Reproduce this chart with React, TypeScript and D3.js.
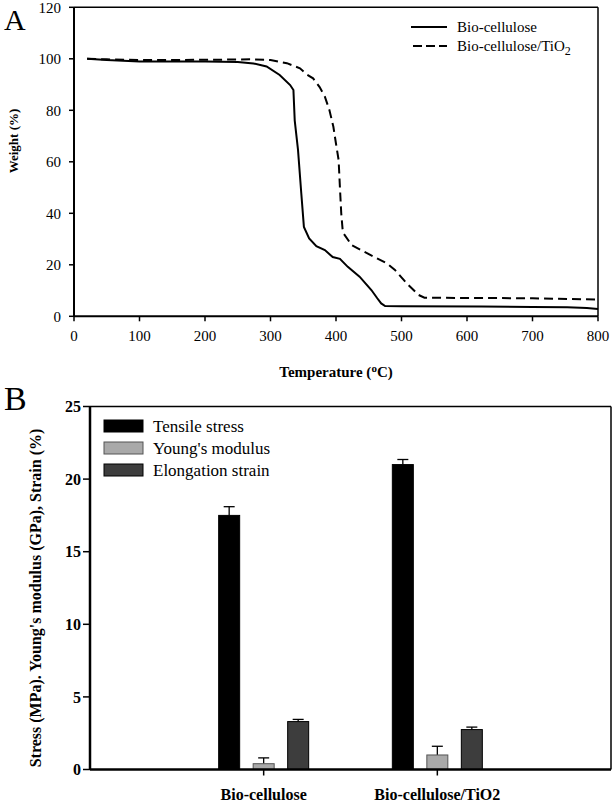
import * as d3 from 'd3'

// Panel A: TGA curves (temperature °C, weight %)
const tempBio = [20, 50, 100, 150, 200, 250, 274, 294, 314, 330, 335, 337, 342, 347, 351, 359, 370, 383, 395, 406, 418, 436, 454, 463, 469, 475, 500, 622, 700, 753, 783, 800]
const weightBio = [100, 99.5, 99, 99, 99, 98.8, 98.2, 97, 93.7, 89.8, 87.9, 76, 64.6, 47.8, 34.7, 30.2, 27.2, 25.7, 23, 22.3, 19.2, 15.4, 10.2, 7, 5, 4, 3.9, 3.8, 3.6, 3.5, 3.2, 2.8]

const tempTi = [20, 50, 100, 200, 270, 300, 325, 345, 355, 365, 375, 383, 390, 396, 400, 404, 406, 408, 410, 412, 424, 448, 478, 490, 508, 526, 535, 630, 700, 800]
const weightTi = [100, 99.8, 99.5, 99.6, 99.8, 99.5, 98.3, 96.3, 94, 92.4, 89, 85.3, 80, 73.6, 67, 60.7, 50, 40, 34, 32, 27.6, 24.4, 20.5, 18, 12.8, 8.3, 7.2, 7.1, 7, 6.5]

const xTicksA = [0, 100, 200, 300, 400, 500, 600, 700, 800]
const yTicksA = [0, 20, 40, 60, 80, 100, 120]

// Panel B: mechanical properties
const samples = ['Bio-cellulose', 'Bio-cellulose/TiO2']
const properties = ['Tensile stress', "Young's modulus", 'Elongation strain']
const meanValues = [
  [17.5, 0.4, 3.3],
  [21.0, 1.0, 2.75],
]
const errValues = [
  [0.6, 0.4, 0.15],
  [0.35, 0.6, 0.17],
]
const propColors = ['#000000', '#a9a9a9', '#3d3d3d']
const yTicksB = [0, 5, 10, 15, 20, 25]

const serif = '"Liberation Serif", "Times New Roman", serif'

export default function App() {
  const xA = d3.scaleLinear().domain([0, 800]).range([74, 598])
  const yA = d3.scaleLinear().domain([0, 120]).range([316.3, 7.3])

  const lineA = d3.line<[number, number]>()
    .x(d => xA(d[0]))
    .y(d => yA(d[1]))

  const bioPts = tempBio.map((t, i) => [t, weightBio[i]] as [number, number])
  const tiPts = tempTi.map((t, i) => [t, weightTi[i]] as [number, number])

  const xB = d3.scaleLinear().domain([0, 3]).range([90, 611])
  const yB = d3.scaleLinear().domain([0, 25]).range([769.5, 406.5])
  const barW = 21
  const barStep = 34.5

  return (
    <svg width={614} height={802} style={{ position: 'absolute', left: 0, top: 0, background: '#fff' }} fontFamily={serif}>
      <rect width={614} height={802} fill="#fff" />

      {/* ---------- Panel A ---------- */}
      <text x={4} y={30} fontSize={30}>A</text>

      {/* frame */}
      <line x1={xA(0)} x2={xA(800)} y1={yA(120)} y2={yA(120)} stroke="#000" strokeWidth={1.5} />
      <line x1={xA(800)} x2={xA(800)} y1={yA(120)} y2={yA(0)} stroke="#000" strokeWidth={1.5} />
      <line x1={xA(0)} x2={xA(0)} y1={yA(120)} y2={yA(0)} stroke="#000" strokeWidth={2} />
      <line x1={xA(0)} x2={xA(800)} y1={yA(0)} y2={yA(0)} stroke="#000" strokeWidth={2} />

      {yTicksA.map(t => (
        <g key={'ya' + t}>
          <line x1={xA(0) - 5} x2={xA(0)} y1={yA(t)} y2={yA(t)} stroke="#000" strokeWidth={1.5} />
          <text x={61} y={yA(t)} dy="0.35em" textAnchor="end" fontSize={15}>{t}</text>
        </g>
      ))}
      {xTicksA.map(t => (
        <g key={'xa' + t}>
          <line x1={xA(t)} x2={xA(t)} y1={yA(0)} y2={yA(0) + 5} stroke="#000" strokeWidth={1.5} />
          <text x={xA(t)} y={341} textAnchor="middle" fontSize={15}>{t}</text>
        </g>
      ))}

      <text x={336} y={377} textAnchor="middle" fontSize={15} fontWeight="bold">
        Temperature (<tspan dy={-5} fontSize={11}>o</tspan><tspan dy={5}>C)</tspan>
      </text>
      <text transform="translate(18,141) rotate(-90)" textAnchor="middle" fontSize={13} fontWeight="bold">Weight (%)</text>

      <path d={lineA(bioPts) ?? ''} fill="none" stroke="#000" strokeWidth={2} />
      <path d={lineA(tiPts) ?? ''} fill="none" stroke="#000" strokeWidth={2} strokeDasharray="9 5" />

      {/* legend A */}
      <line x1={411} x2={447} y1={27} y2={27} stroke="#000" strokeWidth={2} />
      <text x={457} y={32} fontSize={15}>Bio-cellulose</text>
      <line x1={413} x2={447} y1={46} y2={46} stroke="#000" strokeWidth={2} strokeDasharray="9 4" />
      <text x={457} y={51} fontSize={15}>
        Bio-cellulose/TiO<tspan dy={4} fontSize={12}>2</tspan>
      </text>

      {/* ---------- Panel B ---------- */}
      <text x={4} y={410} fontSize={34}>B</text>

      <line x1={xB(0)} x2={xB(3)} y1={yB(25)} y2={yB(25)} stroke="#000" strokeWidth={1.5} />
      <line x1={xB(3)} x2={xB(3)} y1={yB(25)} y2={yB(0)} stroke="#000" strokeWidth={1.5} />

      {samples.map((s, gi) => {
        const cx = xB(gi + 1)
        return (
          <g key={s}>
            {properties.map((p, pi) => {
              const bx = cx + (pi - 1) * barStep
              const v = meanValues[gi][pi]
              const e = errValues[gi][pi]
              return (
                <g key={p}>
                  <line x1={bx} x2={bx} y1={yB(v)} y2={yB(v + e)} stroke="#000" strokeWidth={1.3} />
                  <line x1={bx - 5.5} x2={bx + 5.5} y1={yB(v + e)} y2={yB(v + e)} stroke="#000" strokeWidth={1.3} />
                  <rect x={bx - barW / 2} y={yB(v)} width={barW} height={yB(0) - yB(v)}
                    fill={propColors[pi]} stroke={pi === 1 ? '#555' : '#000'} strokeWidth={1} />
                </g>
              )
            })}
            <line x1={cx} x2={cx} y1={yB(0)} y2={yB(0) + 6} stroke="#000" strokeWidth={1.5} />
            <text x={cx} y={800} textAnchor="middle" fontSize={16} fontWeight="bold">{s}</text>
          </g>
        )
      })}

      <line x1={xB(0)} x2={xB(0)} y1={yB(25)} y2={yB(0)} stroke="#000" strokeWidth={2.5} />
      <line x1={xB(0)} x2={xB(3)} y1={yB(0)} y2={yB(0)} stroke="#000" strokeWidth={2.5} />

      {yTicksB.map(t => (
        <g key={'yb' + t}>
          <line x1={xB(0) - 7} x2={xB(0)} y1={yB(t)} y2={yB(t)} stroke="#000" strokeWidth={1.5} />
          <text x={81} y={yB(t)} dy="0.35em" textAnchor="end" fontSize={16} fontWeight="bold">{t}</text>
        </g>
      ))}

      <text transform="translate(41,598) rotate(-90)" textAnchor="middle" fontSize={16} fontWeight="bold">
        Stress (MPa). Young's modulus (GPa), Strain (%)
      </text>

      {/* legend B */}
      {properties.map((p, pi) => (
        <g key={'lg' + p}>
          <rect x={104} y={420 + pi * 22} width={39} height={12} fill={propColors[pi]} stroke={pi === 1 ? '#555' : '#000'} strokeWidth={1} />
          <text x={153} y={432 + pi * 22} fontSize={17}>{p}</text>
        </g>
      ))}
    </svg>
  )
}
